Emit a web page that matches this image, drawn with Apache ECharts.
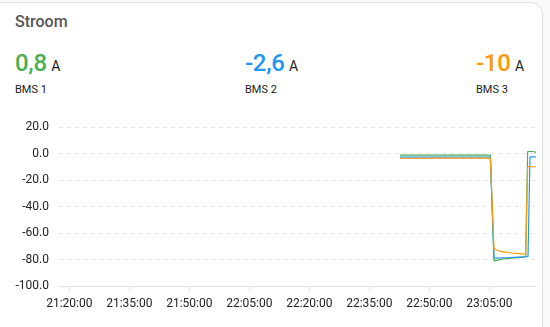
<!DOCTYPE html>
<html>
<head>
<meta charset="utf-8">
<script src="https://cdn.jsdelivr.net/npm/echarts@6/dist/echarts.min.js"></script>
<style>
  html, body { margin: 0; padding: 0; background: #fafafa; width: 550px; height: 327px; overflow: hidden; font-family: Roboto, "Noto Sans", sans-serif; }
  .card { position: absolute; left: -12px; top: 2px; width: 555px; height: 360px; background: #fff; border: 1px solid #e0e0e0; border-radius: 12px; box-sizing: border-box; }
  .title { position: absolute; left: 15px; top: 12px; font-size: 16px; font-weight: 500; color: #555; }
  .entity { position: absolute; top: 49px; }
  .entity .val { font-size: 24px; font-weight: 500; letter-spacing: -0.3px; }
  .entity .unit { font-size: 14px; color: #212121; margin-left: 1px; }
  .entity .name { font-size: 11px; color: #212121; margin-top: 6px; }
  #chart { position: absolute; left: 0; top: 110px; width: 550px; height: 217px; }
</style>
</head>
<body>
<div class="card"></div>
<div class="title">Stroom</div>
<div class="entity" style="left:15px"><span class="val" style="color:#4caf50">0,8</span><span class="unit"> A</span><div class="name">BMS 1</div></div>
<div class="entity" style="left:245px"><span class="val" style="color:#2196f3">-2,6</span><span class="unit"> A</span><div class="name">BMS 2</div></div>
<div class="entity" style="left:476px"><span class="val" style="color:#ff9800">-10</span><span class="unit"> A</span><div class="name">BMS 3</div></div>
<div id="chart"></div>
<script>
// tick labels / axis range
const xTickLabels = ["21:20:00", "21:35:00", "21:50:00", "22:05:00", "22:20:00", "22:35:00", "22:50:00", "23:05:00"];
const xMin = "21:17:25";
const xMax = "23:16:40";
const yTicks = [-100, -80, -60, -40, -20, 0, 20];

// series (time, value)
const bms1Times = ["22:42:40", "22:55:00", "23:05:15", "23:06:10", "23:08:30", "23:14:05", "23:14:35", "23:15:55", "23:16:05", "23:16:40"];
const bms1Values = [-1.3, -1.3, -1.3, -81, -79.5, -78, 1.5, 1.5, 0.6, 0.8];
const bms2Times = ["22:42:40", "22:55:00", "23:05:15", "23:06:10", "23:10:00", "23:14:40", "23:15:10", "23:16:40"];
const bms2Values = [-2.7, -2.8, -2.8, -79, -78.5, -77.8, -2.6, -2.6];
const bms3Times = ["22:42:40", "22:55:00", "23:05:15", "23:06:10", "23:07:00", "23:08:30", "23:10:30", "23:12:30", "23:14:05", "23:14:35", "23:16:40"];
const bms3Values = [-3.6, -3.5, -3.5, -71.5, -73.2, -74.3, -75.1, -75.6, -76, -10, -10];

function toSec(s) {
  const p = s.split(":").map(Number);
  return p[0] * 3600 + p[1] * 60 + p[2];
}
function fmt(v) {
  const h = Math.floor(v / 3600), m = Math.floor((v % 3600) / 60), s = Math.round(v % 60);
  return [h, m, s].map(n => String(n).padStart(2, "0")).join(":");
}
function pairs(times, values) {
  return times.map((t, i) => [toSec(t), values[i]]);
}

let tickSecs = xTickLabels.map(toSec);
let chart = echarts.init(document.getElementById("chart"));
let option = {
  animation: false,
  textStyle: { fontFamily: "Roboto, sans-serif" },
  grid: { left: 59, right: 14, top: 17, bottom: 41 },
  xAxis: {
    type: "value",
    min: toSec(xMin),
    max: toSec(xMax),
    axisLine: { onZero: false, lineStyle: { color: "#e0e0e0" } },
    axisTick: { show: true, length: 5, customValues: tickSecs, lineStyle: { color: "#e0e0e0" } },
    axisLabel: { customValues: tickSecs, formatter: v => fmt(v), color: "#222", fontSize: 12, margin: 12 },
    splitLine: { show: false }
  },
  yAxis: {
    type: "value",
    min: yTicks[0],
    max: yTicks[yTicks.length - 1],
    interval: 20,
    axisLine: { show: false },
    axisTick: { show: false },
    axisLabel: { formatter: v => v.toFixed(1), color: "#222", fontSize: 12, margin: 10 },
    splitLine: { lineStyle: { color: "#e6e6e6", type: [4, 4] } }
  },
  series: [
    { name: "BMS 1", type: "line", showSymbol: false, data: pairs(bms1Times, bms1Values), lineStyle: { width: 1.2, color: "#4caf50" }, itemStyle: { color: "#4caf50" } },
    { name: "BMS 2", type: "line", showSymbol: false, data: pairs(bms2Times, bms2Values), lineStyle: { width: 1.2, color: "#2196f3" }, itemStyle: { color: "#2196f3" } },
    { name: "BMS 3", type: "line", showSymbol: false, data: pairs(bms3Times, bms3Values), lineStyle: { width: 1.2, color: "#ff9800" }, itemStyle: { color: "#ff9800" } }
  ]
};
chart.setOption(option);
</script>
</body>
</html>
